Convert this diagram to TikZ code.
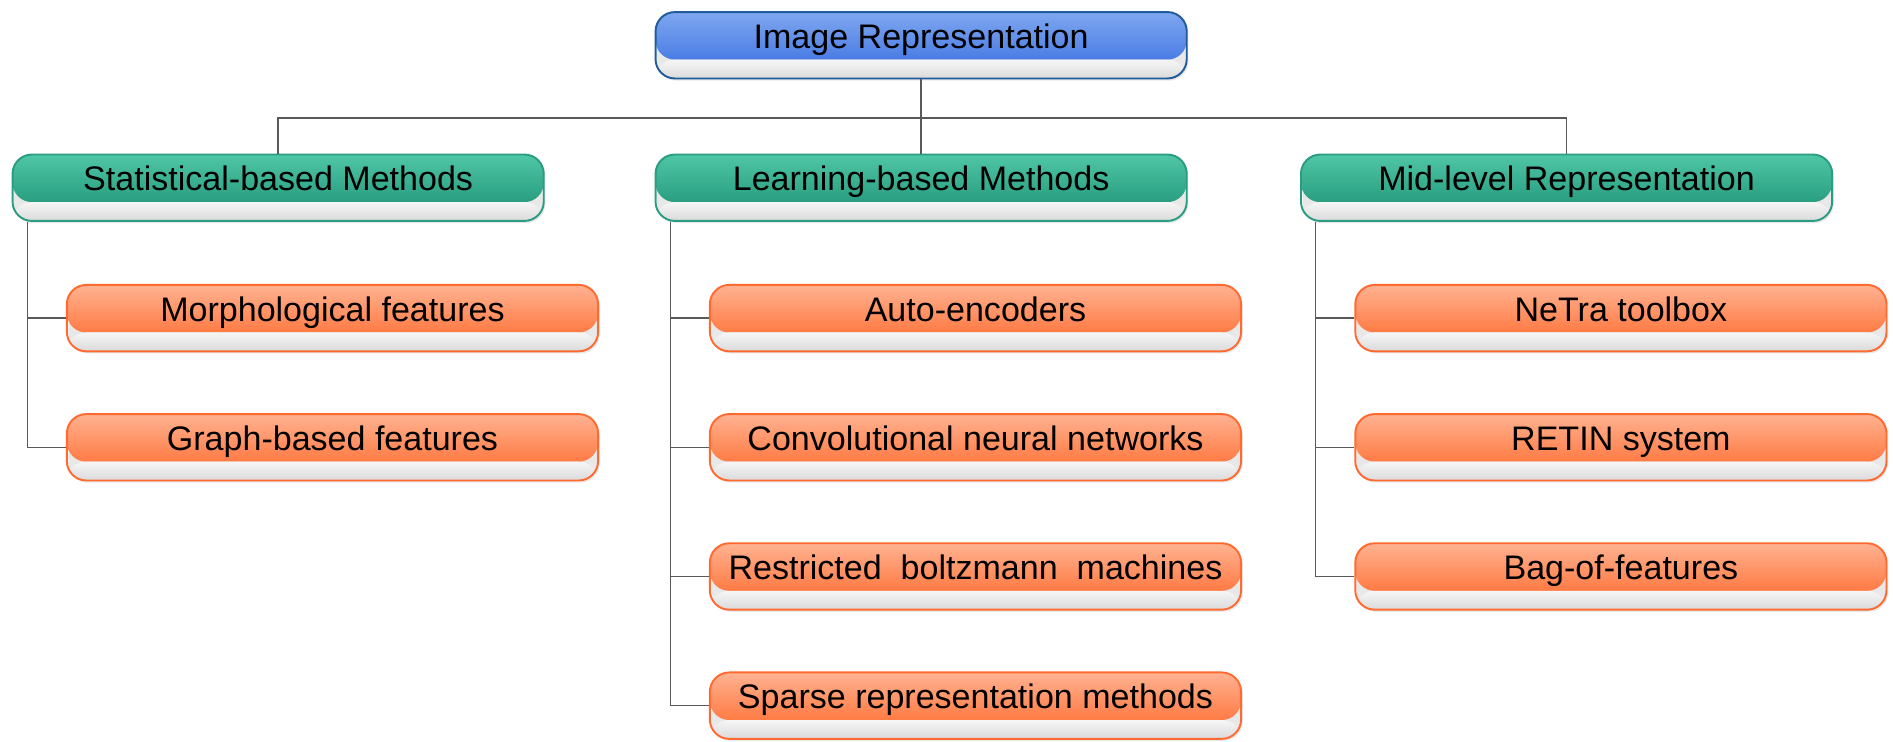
\documentclass[tikz,border=0pt]{standalone}
\usepackage{fontspec}
\setmainfont{Liberation Sans}
\usetikzlibrary{positioning, shadows}

\definecolor{rootTop}{HTML}{7FA7F0}
\definecolor{rootBot}{HTML}{356BDF}
\definecolor{rootLine}{HTML}{1F5C99}
\definecolor{catTop}{HTML}{4FC6A6}
\definecolor{catBot}{HTML}{1A8E72}
\definecolor{catLine}{HTML}{2A9C82}
\definecolor{leafTop}{HTML}{FFB291}
\definecolor{leafBot}{HTML}{FF6526}
\definecolor{leafLine}{HTML}{FF6A30}
\definecolor{lowTop}{HTML}{F6F6F6}
\definecolor{lowBot}{HTML}{DADADA}
\definecolor{linkGray}{HTML}{595959}

\tikzset{
  pill/.style n args={3}{draw=#3, line width=0.8pt, rounded corners=8pt,
    minimum width=220pt, minimum height=27.5pt, inner sep=0pt,
    text height=15pt, text depth=12.5pt,
    font=\fontsize{14.1pt}{16pt}\selectfont,
    drop shadow={opacity=0.18, shadow xshift=0.7pt, shadow yshift=-0.9pt},
    path picture={
      \shade[top color=#1, bottom color=#2] (path picture bounding box.north west) rectangle ([yshift=7.8pt]path picture bounding box.south east);
      \shade[top color=lowTop, bottom color=lowBot] ([yshift=7.8pt]path picture bounding box.south west) rectangle (path picture bounding box.south east);
    }},
  rootbox/.style={pill={rootTop}{rootBot}{rootLine}},
  catbox/.style={pill={catTop}{catBot}{catLine}},
  leafbox/.style={pill={leafTop}{leafBot}{leafLine}},
  link/.style={draw=linkGray, line width=0.6pt},
}

\begin{document}
\begin{tikzpicture}
        \useasboundingbox (0,0) rectangle (784pt,-307.3pt);
        \node[rootbox] (root) at (381.5pt,-18.75pt) {Image Representation};
        \node[catbox, below=30.7pt of root] (learn) {Learning-based Methods};
        \node[catbox, left=45.5pt of learn] (stat) {Statistical-based Methods};
        \node[catbox, right=46.5pt of learn] (mid) {Mid-level Representation};

        % statistical
        \node[leafbox, below=25.7pt of stat, xshift=22.5pt] (morph) {Morphological features};
        \node[leafbox, below=25.2pt of morph] (graph) {Graph-based features};
        % learning
        \node[leafbox, below=25.7pt of learn, xshift=22.5pt] (auto) {Auto-encoders};
        \node[leafbox, below=25.2pt of auto] (cnn) {Convolutional neural networks};
        \node[leafbox, below=25.2pt of cnn] (rbm) {Restricted~~boltzmann~~machines};
        \node[leafbox, below=25.2pt of rbm] (sparse) {Sparse representation methods};
        % mid-level
        \node[leafbox, below=25.7pt of mid, xshift=22.5pt] (netra) {NeTra toolbox};
        \node[leafbox, below=25.2pt of netra] (retin) {RETIN system};
        \node[leafbox, below=25.2pt of retin] (bag) {Bag-of-features};

        \coordinate[below=16pt of root] (bus);
        \draw[link] (root) -- (learn);
        \draw[link] (stat) |- (bus) -| (mid);

        \coordinate (statspine) at ([xshift=6.5pt]stat.south west);
        \coordinate (learnspine) at ([xshift=6.5pt]learn.south west);
        \coordinate (midspine) at ([xshift=6.5pt]mid.south west);
        \draw[link] (statspine) |- (morph.west);
        \draw[link] (statspine) |- (graph.west);
        \draw[link] (learnspine) |- (auto.west);
        \draw[link] (learnspine) |- (cnn.west);
        \draw[link] (learnspine) |- (rbm.west);
        \draw[link] (learnspine) |- (sparse.west);
        \draw[link] (midspine) |- (netra.west);
        \draw[link] (midspine) |- (retin.west);
        \draw[link] (midspine) |- (bag.west);
    \end{tikzpicture}
\end{document}
